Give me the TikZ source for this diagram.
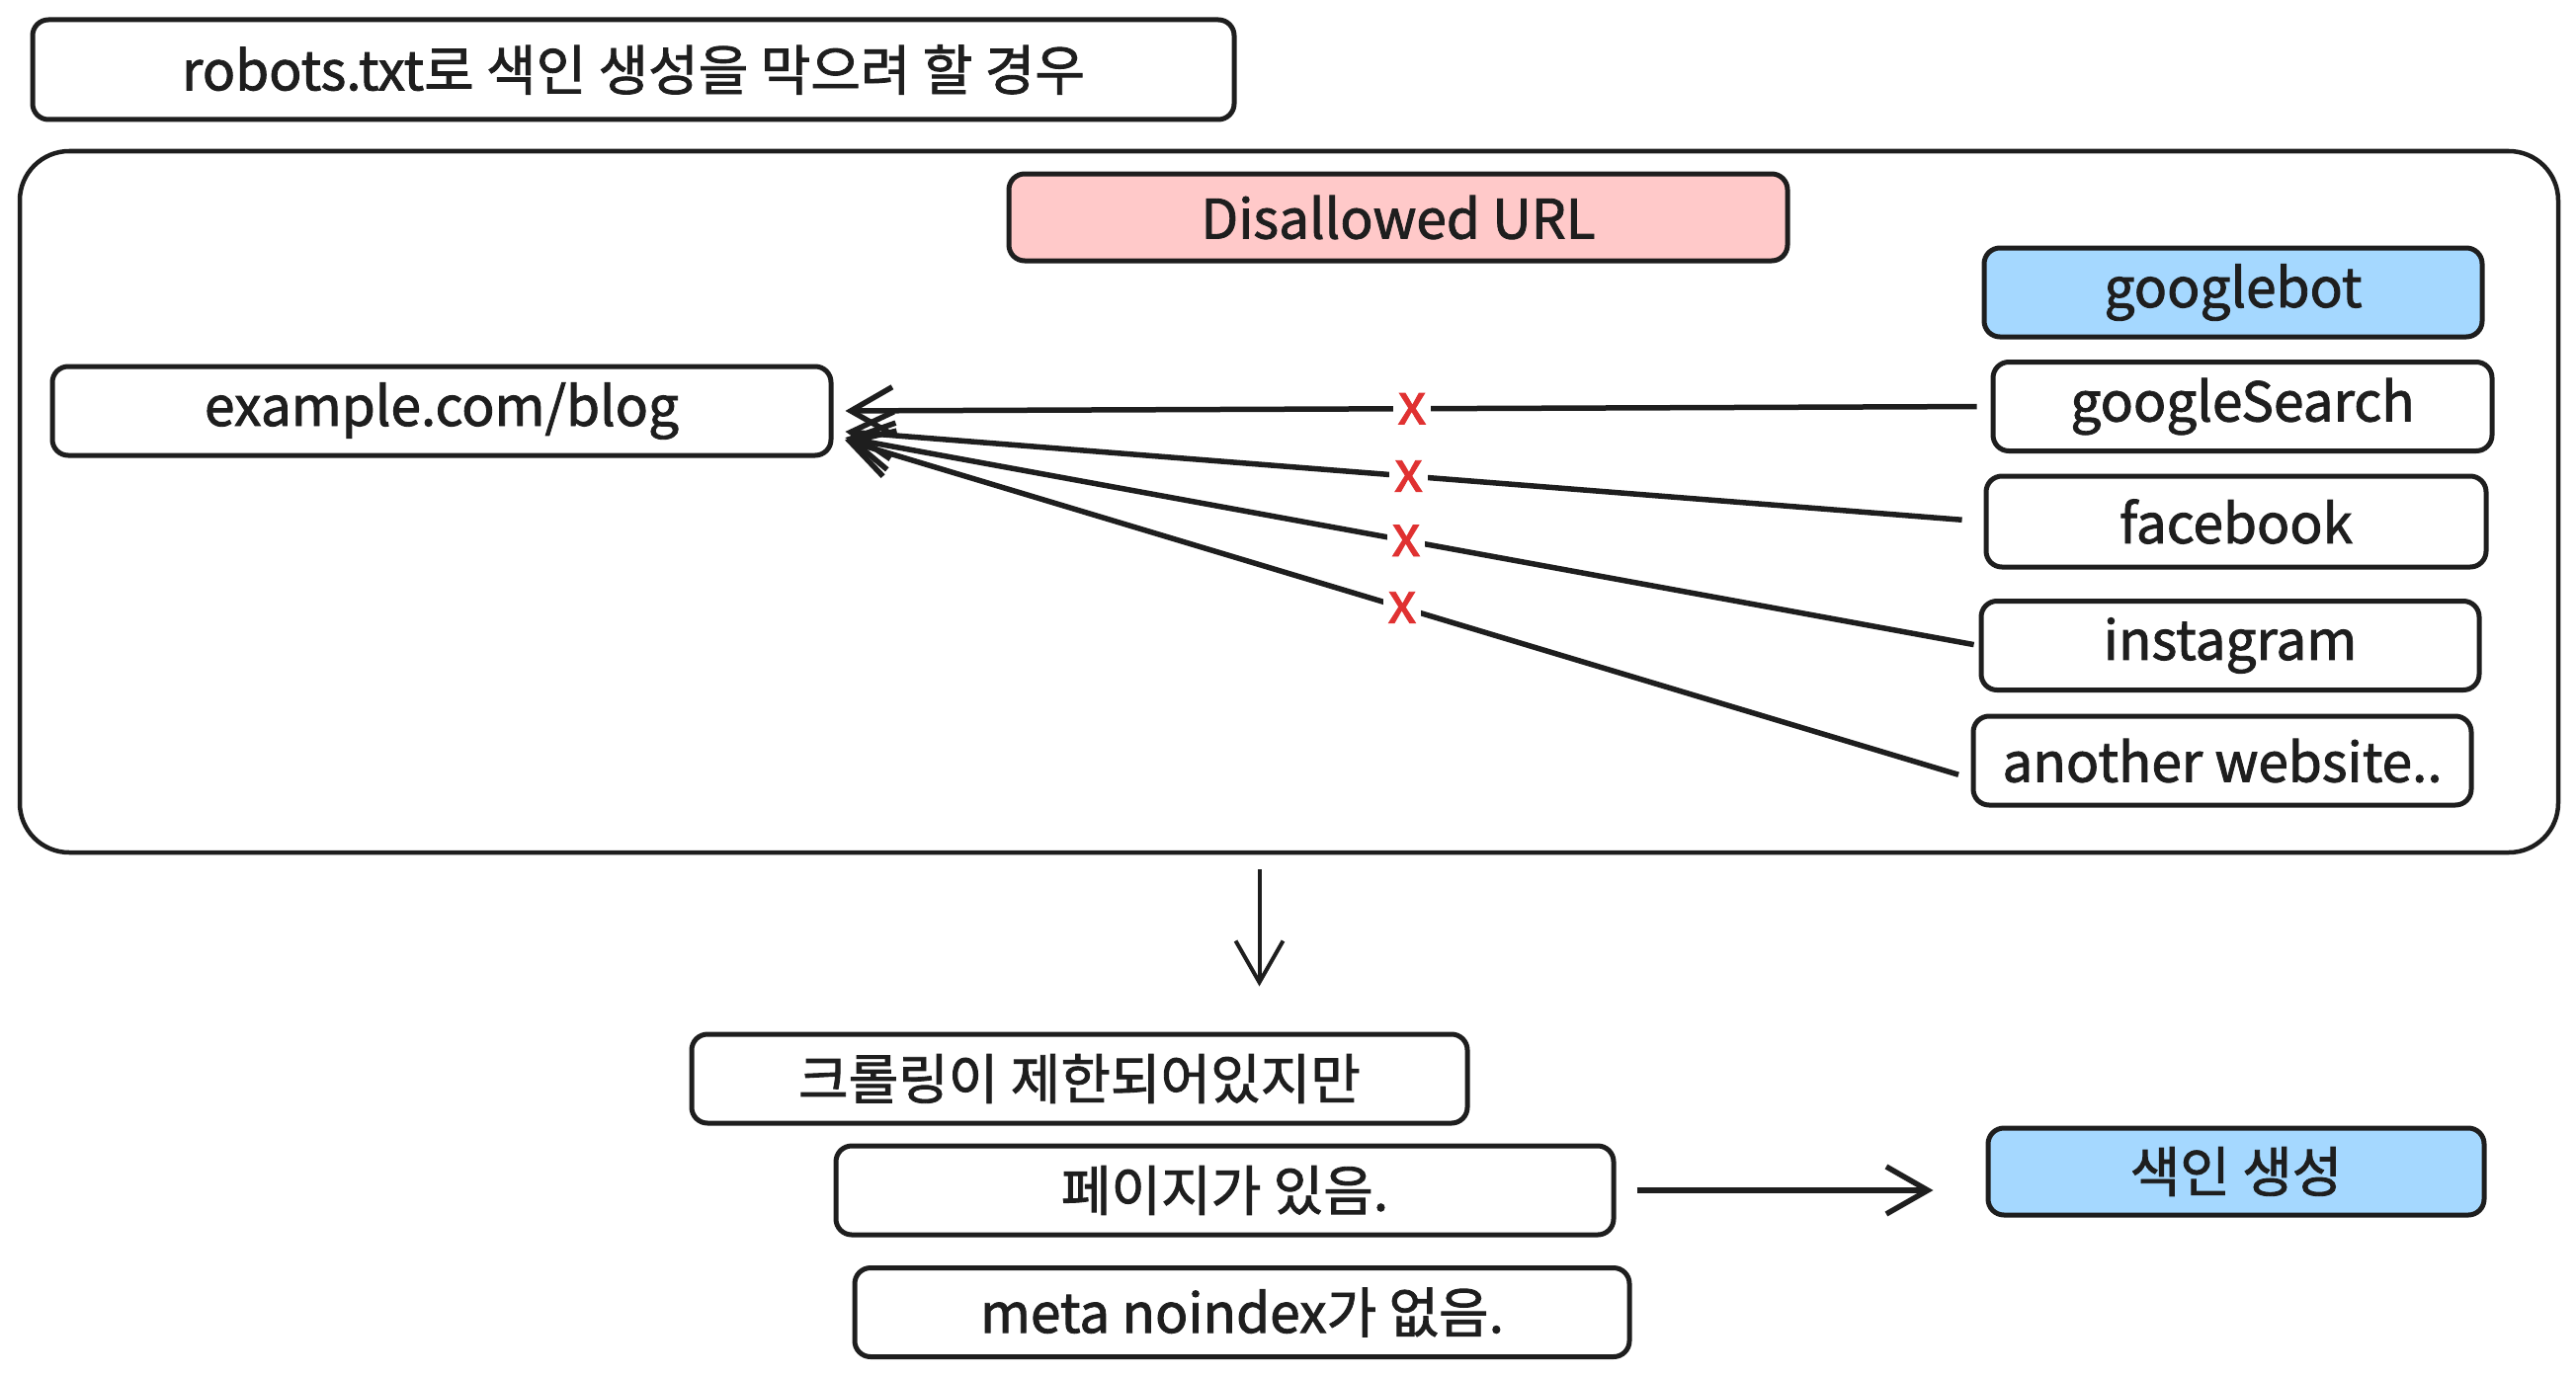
\documentclass[tikz,border=0pt]{standalone}
\usepackage{fontspec}
\setmainfont{Noto Sans CJK KR}[BoldFont=*, BoldFeatures={FakeBold=1.6}]
\usetikzlibrary{arrows.meta}
\definecolor{ink}{HTML}{1E1E1E}
\definecolor{pinkf}{HTML}{FFC9C9}
\definecolor{bluef}{HTML}{A5D8FF}
\definecolor{redx}{HTML}{E03131}
\begin{document}
\begin{tikzpicture}[x=1pt,y=-1pt,
  box/.style={draw=ink, line width=5pt, rounded corners=16pt, minimum height=90pt,
    inner sep=0pt, text=ink, font=\bfseries\fontsize{55}{64}\selectfont},
  frame/.style={draw=ink, line width=4.5pt, rounded corners=50pt, inner sep=0pt},
  conn/.style={draw=ink, line width=5.5pt, -{Straight Barb[length=42pt,width=48pt]}},
  xmark/.style={text=redx, fill=white, inner sep=5pt, font=\bfseries\fontsize{58}{58}\selectfont}
]
\useasboundingbox (0,0) rectangle (2607,1394);

\node[box, minimum width=1216pt, minimum height=101pt] (title) at (641,70.5) {robots.txt로 색인 생성을 막으려 할 경우};

\node[frame, minimum width=2569pt, minimum height=710pt] (cont) at (1304.5,508) {};

\node[box, fill=pinkf, minimum width=788pt, minimum height=88pt] (dis) at (1415,220) {Disallowed URL};
\node[box, fill=bluef, minimum width=504pt] (gb) at (2260,296) {googlebot};
\node[box, minimum width=505pt] (gs) at (2269.5,411.5) {googleSearch};
\node[box, minimum width=506pt, minimum height=92pt] (fb) at (2263,528) {facebook};
\node[box, minimum width=504pt] (ig) at (2257,653.5) {instagram};
\node[box, minimum width=504pt] (an) at (2249,770) {another website..};
\node[box, minimum width=788pt] (ex) at (447,416) {example.com/blog};

\node[box, minimum width=785pt] (kr) at (1092.5,1092) {크롤링이 제한되어있지만};
\node[box, minimum width=787pt] (pg) at (1239.5,1205) {페이지가 있음.};
\node[box, minimum width=784pt] (mt) at (1257,1328.5) {meta noindex가 없음.};
\node[box, fill=bluef, minimum width=502pt, minimum height=88pt] (sy) at (2263,1186) {색인 생성};

\draw[conn, shorten <=14pt, shorten >=12pt] (gs.west) -- (ex.east) node[xmark, pos=0.5] {x};
\draw[conn, shorten <=22pt, shorten >=12pt] (fb.west) -- ([yshift=-20pt]ex.east) node[xmark, pos=0.5] {x};
\draw[conn, shorten <=5pt, shorten >=12pt] (ig.west) -- ([yshift=-25pt]ex.east) node[xmark, pos=0.5] {x};
\draw[conn, shorten <=13pt, shorten >=12pt] ([yshift=-18pt]an.west) -- ([yshift=-26pt]ex.east) node[xmark, pos=0.5] {x};

\draw[conn, line width=4pt, shorten <=15pt, shorten >=46pt] ([xshift=-30pt]cont.south) -- ([xshift=-30pt]cont.south |- kr.north);
\draw[conn, shorten <=21pt, shorten >=53pt] (pg.east) -- (pg.east -| sy.west);
\end{tikzpicture}
\end{document}
